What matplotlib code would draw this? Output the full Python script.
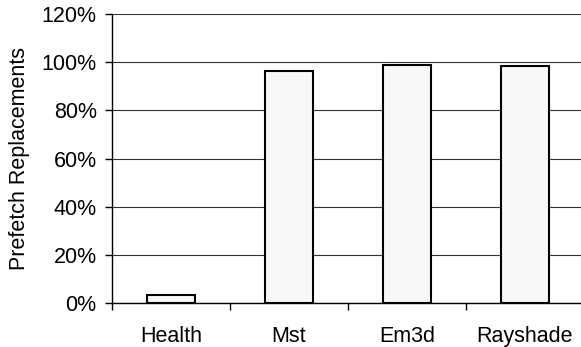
import numpy as np
import matplotlib
matplotlib.use("Agg")
import matplotlib.pyplot as plt
from matplotlib.ticker import FixedLocator, PercentFormatter

# Share of prefetches that were replacements, per benchmark
benchmarks = ["Health", "Mst", "Em3d", "Rayshade"]
replacements = [3.4, 96.3, 99.0, 98.5]  # percent

plt.rcParams["font.family"] = ["Liberation Sans", "DejaVu Sans"]
plt.rcParams["font.size"] = 15.5

fig = plt.figure(figsize=(5.81, 3.47), dpi=100)
ax = fig.add_axes([112 / 581, 43.7 / 347, 472 / 581, 289.3 / 347])

x = np.arange(len(benchmarks)) + 0.5
ax.bar(x, replacements, width=0.4, color="#f8f8f8", edgecolor="black",
       linewidth=1.5, zorder=3)

ax.set_xlim(0, len(benchmarks))
ax.set_ylim(0, 120)
ax.set_yticks(np.arange(0, 121, 20))
ax.yaxis.set_major_formatter(PercentFormatter(decimals=0))

# tick marks sit between categories, labels sit under the bars
ax.xaxis.set_major_locator(FixedLocator(np.arange(len(benchmarks) + 1)))
ax.xaxis.set_minor_locator(FixedLocator(x))
ax.set_xticklabels([])
ax.set_xticklabels(benchmarks, minor=True)
ax.tick_params(axis="x", which="major", length=5, width=1, color="black")
ax.tick_params(axis="x", which="minor", length=0, pad=16)
ax.tick_params(axis="y", length=5, width=1, pad=6)

ax.grid(axis="y", color="#333333", linewidth=0.8, zorder=0)
ax.spines["top"].set_visible(False)
ax.spines["right"].set_visible(False)
ax.spines["left"].set_linewidth(1)
ax.spines["bottom"].set_linewidth(1)

ax.set_ylabel("Prefetch Replacements", labelpad=8)

fig.savefig("out.png", dpi=100)
